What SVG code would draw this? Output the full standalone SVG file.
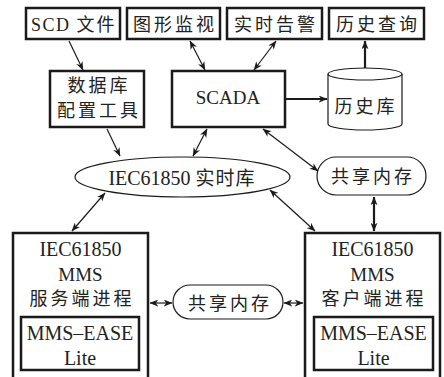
<svg xmlns="http://www.w3.org/2000/svg" width="444" height="377" viewBox="0 0 444 377">
<defs>
<style>
.box{fill:#fff;stroke:#1a1a1a;stroke-width:2.5}
.thin{fill:#fff;stroke:#1a1a1a;stroke-width:1.2}
.ln{fill:none;stroke:#1a1a1a;stroke-width:1.2}
.thk{fill:none;stroke:#1a1a1a;stroke-width:2.2}
text{font-family:"Liberation Serif","Noto Sans CJK SC",serif;fill:#222;text-anchor:middle}
.cn{font-family:"Noto Sans CJK SC","Liberation Serif",sans-serif;font-size:18px;letter-spacing:3px}
.lat{font-size:20px}
</style>
<marker id="ah" viewBox="0 0 10 8" refX="9.5" refY="4" markerWidth="9" markerHeight="7" markerUnits="userSpaceOnUse" orient="auto-start-reverse">
<path d="M0,0 L10,4 L0,8 L3,4 z" fill="#1a1a1a"/>
</marker>
</defs>

<g id="scd">
<rect class="box" x="26" y="8" width="94" height="31"/>
<text x="31" y="31" style="text-anchor:start;font-size:18px;letter-spacing:1.5px">SCD <tspan class="cn" style="letter-spacing:2px">文件</tspan></text>
</g>
<g id="txjs">
<rect class="box" x="127" y="8" width="93" height="31"/>
<text class="cn" x="175" y="31">图形监视</text>
</g>
<g id="ssgj">
<rect class="box" x="227" y="8" width="95" height="31"/>
<text class="cn" x="276" y="31">实时告警</text>
</g>
<g id="lscx">
<rect class="box" x="329" y="8" width="95" height="31"/>
<text class="cn" x="378" y="31">历史查询</text>
</g>
<g id="pzgj">
<rect class="box" x="50" y="71" width="94" height="56"/>
<text class="cn" x="99" y="92">数据库</text>
<text class="cn" x="99" y="117">配置工具</text>
</g>
<g id="scada">
<rect class="box" x="172" y="71" width="113" height="56"/>
<text x="228" y="104" style="font-size:19px">SCADA</text>
</g>
<g id="lsk">
<path class="thin" d="M328,74 V124 A37,6 0 0 0 402,124 V74 A37,6 0 0 0 328,74 Z"/>
<path class="ln" d="M328,74 A37,6 0 0 0 402,74"/>
<text class="cn" x="366" y="113">历史库</text>
</g>
<g id="sskdb">
<ellipse class="thin" cx="182.5" cy="177" rx="107.5" ry="20"/>
<text x="182" y="185" class="lat">IEC61850 <tspan class="cn" style="font-size:19px;letter-spacing:1px">实时库</tspan></text>
</g>
<g id="gxnc1">
<rect class="thin" x="317" y="157" width="109" height="38" rx="19" ry="19"/>
<text class="cn" x="373" y="183">共享内存</text>
</g>
<g id="server">
<path class="box" d="M13,380 V233 H148 V380" />
<text class="lat" x="80.5" y="256">IEC61850</text>
<text x="80.5" y="281" style="font-size:19px">MMS</text>
<text class="cn" x="82" y="305">服务端进程</text>
<rect class="box" x="21" y="317" width="118" height="53"/>
<text class="lat" x="80" y="340">MMS–EASE</text>
<text class="lat" x="80" y="365">Lite</text>
</g>
<g id="gxnc2">
<rect class="thin" x="173" y="285" width="110" height="34" rx="17" ry="17"/>
<text class="cn" x="230" y="310">共享内存</text>
</g>
<g id="client">
<path class="box" d="M305,380 V233 H440 V380" />
<text class="lat" x="372.5" y="256">IEC61850</text>
<text x="372.5" y="281" style="font-size:19px">MMS</text>
<text class="cn" x="374" y="305">客户端进程</text>
<rect class="box" x="314" y="317" width="119" height="53"/>
<text class="lat" x="373.5" y="340">MMS–EASE</text>
<text class="lat" x="373.5" y="365">Lite</text>
</g>

<g id="connectors">
<line class="ln" x1="69" y1="41" x2="83" y2="70" marker-end="url(#ah)"/>
<line class="ln" x1="190" y1="41" x2="205" y2="70" marker-start="url(#ah)" marker-end="url(#ah)"/>
<line class="ln" x1="276" y1="41" x2="254" y2="70" marker-start="url(#ah)" marker-end="url(#ah)"/>
<line class="thk" x1="286" y1="99" x2="327" y2="99" marker-end="url(#ah)"/>
<line class="thk" x1="365" y1="68" x2="365" y2="41" marker-end="url(#ah)"/>
<line class="ln" x1="107" y1="129" x2="120" y2="156" marker-end="url(#ah)"/>
<line class="ln" x1="207" y1="129" x2="193" y2="156" marker-start="url(#ah)" marker-end="url(#ah)"/>
<line class="ln" x1="263" y1="129" x2="318" y2="171" marker-start="url(#ah)" marker-end="url(#ah)"/>
<line class="ln" x1="270" y1="190" x2="315" y2="231" marker-start="url(#ah)" marker-end="url(#ah)"/>
<line class="ln" x1="105" y1="193" x2="72" y2="231" marker-start="url(#ah)" marker-end="url(#ah)"/>
<line class="thk" x1="374" y1="197" x2="374" y2="231" marker-start="url(#ah)" marker-end="url(#ah)"/>
<line class="ln" x1="150" y1="303" x2="172" y2="303" marker-start="url(#ah)" marker-end="url(#ah)"/>
<line class="ln" x1="284" y1="303" x2="303" y2="303" marker-start="url(#ah)" marker-end="url(#ah)"/>
</g>
</svg>
